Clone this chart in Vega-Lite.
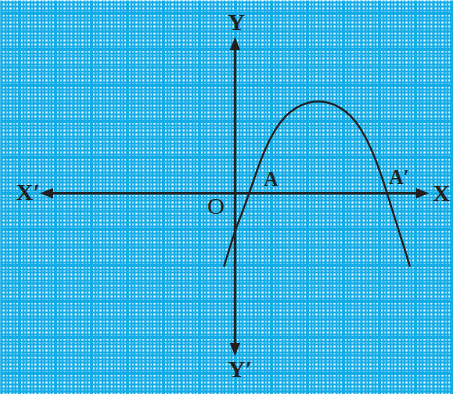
{
  "$schema": "https://vega.github.io/schema/vega-lite/v6.json",
  "width": 453,
  "height": 394,
  "autosize": {"type": "none"},
  "padding": 0,
  "background": "white",
  "config": {"view": {"stroke": null}},
  "datasets": {
    "curve": [
      {"x": -0.306, "y": -2.032},
      {"x": 0.0, "y": -1.061},
      {"x": 0.213, "y": -0.493},
      {"x": 0.513, "y": 0.347},
      {"x": 0.813, "y": 1.155},
      {"x": 1.113, "y": 1.751},
      {"x": 1.413, "y": 2.145},
      {"x": 1.713, "y": 2.381},
      {"x": 2.013, "y": 2.51},
      {"x": 2.313, "y": 2.55},
      {"x": 2.613, "y": 2.51},
      {"x": 2.913, "y": 2.381},
      {"x": 3.213, "y": 2.145},
      {"x": 3.513, "y": 1.751},
      {"x": 3.813, "y": 1.155},
      {"x": 4.113, "y": 0.347},
      {"x": 4.413, "y": -0.603},
      {"x": 4.713, "y": -1.551},
      {"x": 4.86, "y": -2.043}
    ],
    "axes": [
      {"name": "XX", "x": -5.236, "x2": 5.208, "y": 0, "y2": 0},
      {"name": "YY", "x": 0, "x2": 0, "y": -4.339, "y2": 4.161}
    ],
    "arrows": [
      {"dir": "right", "x": 5.208, "y": 0},
      {"dir": "left", "x": -5.236, "y": 0},
      {"dir": "up", "x": 0, "y": 4.161},
      {"dir": "down", "x": 0, "y": -4.339}
    ],
    "bigLabels": [
      {"label": "X′", "x": -5.75, "y": 0},
      {"label": "X", "x": 5.736, "y": -0.02},
      {"label": "Y", "x": 0.04, "y": 4.72},
      {"label": "Y′", "x": 0.14, "y": -4.91}
    ],
    "origin": [
      {"label": "O", "x": -0.528, "y": -0.394}
    ],
    "points": [
      {"label": "A", "x": 1.0, "y": 0.356},
      {"label": "A′", "x": 4.556, "y": 0.425}
    ]
  },
  "layer": [
    {
      "data": {"name": "curve"},
      "mark": {"type": "line", "interpolate": "natural", "color": "#231f20", "strokeWidth": 2},
      "encoding": {
        "x": {
          "field": "x", "type": "quantitative",
          "scale": {"domain": [-6.528, 6.056], "nice": false, "zero": false},
          "axis": {
            "orient": "bottom", "domain": false, "ticks": false, "labels": false, "title": null,
            "tickCount": 130, "grid": true, "gridColor": "#14ace6", "gridOpacity": 1,
            "gridWidth": {
              "condition": [
                {"test": "abs(datum.value - round(datum.value)) < 0.001", "value": 3},
                {"test": "abs(datum.value * 2 - round(datum.value * 2)) < 0.001", "value": 2.4}
              ],
              "value": 1.9
            }
          }
        },
        "y": {
          "field": "y", "type": "quantitative",
          "scale": {"domain": [-5.575, 5.369], "nice": false, "zero": false},
          "axis": {
            "orient": "left", "domain": false, "ticks": false, "labels": false, "title": null,
            "tickCount": 110, "grid": true, "gridColor": "#14ace6", "gridOpacity": 1,
            "gridWidth": {
              "condition": [
                {"test": "abs(datum.value - round(datum.value)) < 0.001", "value": 3},
                {"test": "abs(datum.value * 2 - round(datum.value * 2)) < 0.001", "value": 2.4}
              ],
              "value": 1.9
            }
          }
        }
      }
    },
    {
      "data": {"name": "axes"},
      "mark": {"type": "rule", "color": "#231f20", "strokeWidth": 2.6},
      "encoding": {
        "x": {"field": "x", "type": "quantitative"},
        "x2": {"field": "x2"},
        "y": {"field": "y", "type": "quantitative"},
        "y2": {"field": "y2"}
      }
    },
    {
      "data": {"name": "arrows"},
      "mark": {"type": "point", "filled": true, "color": "#231f20", "opacity": 1, "size": 169, "strokeWidth": 0},
      "encoding": {
        "x": {"field": "x", "type": "quantitative"},
        "y": {"field": "y", "type": "quantitative"},
        "shape": {
          "field": "dir", "type": "nominal", "legend": null,
          "scale": {
            "domain": ["right", "left", "up", "down"],
            "range": ["M-1,-0.8L1,0L-1,0.8Z", "M1,-0.8L-1,0L1,0.8Z", "M-0.8,1L0,-1L0.8,1Z", "M-0.8,-1L0,1L0.8,-1Z"]
          }
        }
      }
    },
    {
      "data": {"name": "bigLabels"},
      "mark": {"type": "text", "font": "Liberation Serif", "fontWeight": "bold", "fontSize": 24, "color": "#231f20", "align": "center", "baseline": "middle"},
      "encoding": {
        "x": {"field": "x", "type": "quantitative"},
        "y": {"field": "y", "type": "quantitative"},
        "text": {"field": "label"}
      }
    },
    {
      "data": {"name": "origin"},
      "mark": {"type": "text", "font": "Liberation Serif", "fontWeight": "normal", "fontSize": 24, "color": "#231f20", "align": "center", "baseline": "middle"},
      "encoding": {
        "x": {"field": "x", "type": "quantitative"},
        "y": {"field": "y", "type": "quantitative"},
        "text": {"field": "label"}
      }
    },
    {
      "data": {"name": "points"},
      "mark": {"type": "text", "font": "Liberation Serif", "fontWeight": "bold", "fontSize": 20, "color": "#231f20", "align": "center", "baseline": "middle"},
      "encoding": {
        "x": {"field": "x", "type": "quantitative"},
        "y": {"field": "y", "type": "quantitative"},
        "text": {"field": "label"}
      }
    }
  ]
}
